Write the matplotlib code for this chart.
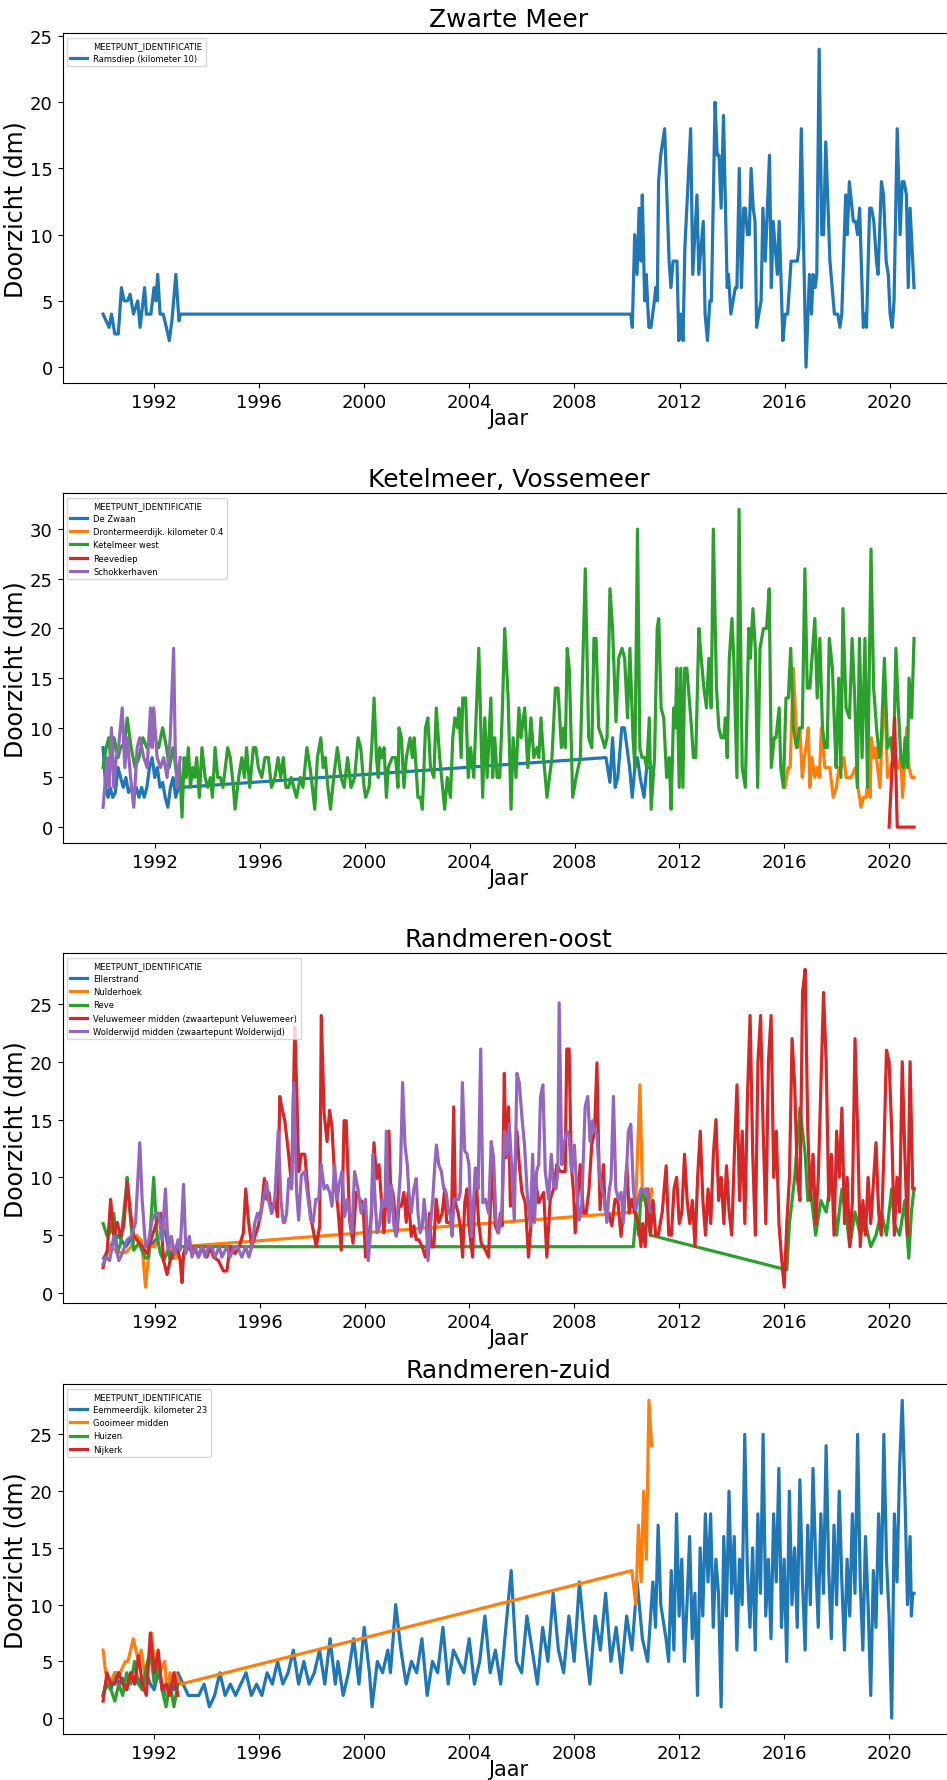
import matplotlib
matplotlib.use("Agg")
import matplotlib.pyplot as plt
from matplotlib.lines import Line2D

# Doorzicht (dm) per meetpunt; tijd als decimaal jaar
HUE = "MEETPUNT_IDENTIFICATIE"
COLORS = ["#1f77b4", "#ff7f0e", "#2ca02c", "#d62728", "#9467bd"]

# --- Zwarte Meer ---
RAMSDIEP = [
    (1990.06, 4), (1990.29, 3), (1990.38, 4), (1990.51, 2.5), (1990.64, 2.5), (1990.76, 6),
    (1990.86, 5), (1990.99, 5), (1991.09, 5.5), (1991.22, 4), (1991.38, 5), (1991.47, 3),
    (1991.64, 6), (1991.71, 4), (1991.88, 4), (1992.0, 6), (1992.07, 5), (1992.14, 7),
    (1992.23, 4), (1992.35, 4), (1992.47, 3), (1992.58, 2), (1992.68, 3.5), (1992.83, 7),
    (1992.95, 3.5), (1993.0, 4), (2010.14, 4), (2010.2, 3), (2010.29, 10), (2010.38, 7),
    (2010.46, 12), (2010.53, 8), (2010.58, 13), (2010.67, 5), (2010.73, 7), (2010.83, 3),
    (2010.91, 3), (2011.04, 5), (2011.09, 6), (2011.15, 5), (2011.2, 14), (2011.28, 16),
    (2011.43, 18), (2011.6, 8), (2011.67, 6), (2011.75, 8), (2011.9, 8), (2011.97, 2),
    (2012.05, 4), (2012.13, 2), (2012.2, 9), (2012.42, 18), (2012.5, 7), (2012.66, 13),
    (2012.73, 7), (2012.9, 11), (2012.97, 4), (2013.06, 2), (2013.15, 5), (2013.21, 5),
    (2013.35, 20), (2013.43, 16), (2013.5, 16), (2013.58, 12), (2013.67, 19), (2013.81, 6),
    (2013.86, 7), (2013.95, 4), (2014.12, 6), (2014.18, 6), (2014.27, 15), (2014.35, 6),
    (2014.44, 12), (2014.5, 12), (2014.58, 10), (2014.65, 10), (2014.72, 15), (2014.8, 12),
    (2014.87, 11), (2014.93, 3), (2015.1, 5), (2015.17, 12), (2015.26, 8), (2015.42, 16),
    (2015.49, 6), (2015.56, 11), (2015.64, 9), (2015.72, 7), (2015.79, 11), (2015.93, 2),
    (2016.02, 4), (2016.11, 4), (2016.24, 8), (2016.48, 8), (2016.54, 9), (2016.63, 18),
    (2016.81, 0), (2016.94, 7), (2017.02, 4), (2017.08, 7), (2017.16, 6), (2017.22, 7),
    (2017.31, 24), (2017.41, 10), (2017.48, 10), (2017.56, 17), (2017.72, 8), (2017.89, 4),
    (2018.02, 4), (2018.1, 3), (2018.17, 4), (2018.32, 13), (2018.38, 10), (2018.46, 14),
    (2018.61, 11), (2018.7, 11), (2018.77, 10), (2018.85, 12), (2018.99, 3), (2019.05, 4),
    (2019.11, 3), (2019.23, 12), (2019.3, 12), (2019.39, 11), (2019.49, 8), (2019.55, 7),
    (2019.68, 14), (2019.76, 13), (2019.86, 8), (2019.94, 7), (2020.01, 4), (2020.09, 3),
    (2020.16, 5), (2020.28, 18), (2020.39, 10), (2020.47, 14), (2020.54, 14), (2020.63, 13),
    (2020.7, 6), (2020.77, 12), (2020.92, 6),
]

# --- Ketelmeer, Vossemeer ---
DE_ZWAAN = [
    (1990.03, 8), (1990.13, 4), (1990.22, 3), (1990.3, 4), (1990.4, 3), (1990.5, 3.5),
    (1990.6, 6), (1990.7, 5), (1990.8, 4), (1990.9, 5), (1991.0, 3.5), (1991.1, 4),
    (1991.2, 3), (1991.3, 4), (1991.4, 3), (1991.5, 4), (1991.6, 3), (1991.7, 4),
    (1991.8, 6), (1991.9, 7), (1992.0, 5), (1992.1, 6), (1992.2, 4), (1992.3, 4.5),
    (1992.4, 3), (1992.5, 2), (1992.6, 4), (1992.7, 5), (1992.8, 3), (1992.9, 4),
    (1993.0, 4), (2009.2, 7), (2009.35, 4.5), (2009.45, 9), (2009.55, 4), (2009.65, 5),
    (2009.8, 10), (2009.9, 10), (2010.0, 8), (2010.1, 6), (2010.2, 3), (2010.3, 6),
    (2010.4, 7), (2010.5, 5), (2010.65, 3), (2010.75, 6), (2010.95, 6),
]
DRONTERMEERDIJK = [
    (2016.02, 4), (2016.14, 6), (2016.22, 6), (2016.34, 16), (2016.43, 11), (2016.5, 8),
    (2016.59, 10), (2016.68, 5), (2016.76, 7), (2016.82, 8), (2016.91, 10), (2016.97, 4),
    (2017.05, 7), (2017.16, 5), (2017.25, 6), (2017.33, 5), (2017.41, 10), (2017.54, 6),
    (2017.73, 6), (2017.86, 3), (2017.98, 4), (2018.08, 6), (2018.17, 6), (2018.27, 7),
    (2018.35, 5), (2018.54, 5), (2018.71, 6), (2018.8, 4), (2018.92, 2), (2019.02, 3),
    (2019.11, 3), (2019.2, 5), (2019.27, 3), (2019.31, 9), (2019.4, 7), (2019.46, 8),
    (2019.55, 6), (2019.64, 4), (2019.74, 10), (2019.83, 13), (2019.93, 5), (2020.06, 6),
    (2020.15, 7), (2020.25, 7), (2020.34, 6), (2020.44, 7), (2020.5, 3), (2020.6, 7),
    (2020.66, 10), (2020.75, 6), (2020.85, 5), (2020.94, 5),
]
KETELMEER_WEST = [
    (1990.03, 6), (1990.15, 8), (1990.25, 9), (1990.35, 6), (1990.45, 9), (1990.6, 7),
    (1990.7, 8), (1990.85, 8.5), (1990.95, 11), (1991.1, 8), (1991.25, 6), (1991.4, 7),
    (1991.55, 9), (1991.7, 8), (1991.85, 9), (1992.0, 9), (1992.15, 8), (1992.3, 10),
    (1992.45, 8), (1992.55, 6), (1992.7, 8), (1992.85, 5), (1992.95, 6), (1993.04, 1),
    (1993.12, 7), (1993.2, 5), (1993.28, 8), (1993.36, 4), (1993.44, 6), (1993.52, 5),
    (1993.6, 7), (1993.7, 3), (1993.8, 8), (1993.92, 5), (1994.02, 4), (1994.12, 5),
    (1994.2, 3), (1994.3, 8), (1994.4, 5), (1994.5, 5), (1994.6, 4), (1994.78, 8),
    (1994.88, 7), (1995.0, 4), (1995.06, 1.8), (1995.2, 5), (1995.32, 7), (1995.42, 5),
    (1995.5, 8), (1995.62, 4), (1995.76, 8), (1995.85, 8), (1995.95, 6), (1996.08, 5),
    (1996.2, 7), (1996.33, 7), (1996.45, 4), (1996.58, 5), (1996.7, 7), (1996.8, 5),
    (1996.9, 7), (1997.0, 4), (1997.1, 4), (1997.2, 5), (1997.3, 4), (1997.4, 3),
    (1997.55, 5), (1997.65, 4), (1997.8, 8), (1997.92, 6), (1998.1, 1.8), (1998.2, 7),
    (1998.33, 9), (1998.42, 6), (1998.5, 7), (1998.6, 4), (1998.7, 1.8), (1998.82, 5),
    (1998.96, 8), (1999.1, 5), (1999.22, 4), (1999.35, 7), (1999.48, 4), (1999.62, 5),
    (1999.75, 9), (1999.85, 8), (1999.98, 4), (2000.04, 3), (2000.17, 4), (2000.27, 8),
    (2000.36, 13), (2000.45, 7), (2000.52, 5), (2000.57, 8), (2000.65, 7), (2000.74, 8),
    (2000.83, 3), (2000.9, 6), (2001.05, 7), (2001.18, 7), (2001.27, 4), (2001.31, 10),
    (2001.4, 9), (2001.5, 4), (2001.59, 7), (2001.73, 9), (2001.82, 7), (2001.89, 9),
    (2002.03, 3), (2002.13, 3), (2002.2, 1.8), (2002.32, 10), (2002.41, 11), (2002.51, 6),
    (2002.64, 5), (2002.73, 12), (2002.86, 7), (2003.05, 1.8), (2003.15, 5), (2003.27, 3),
    (2003.36, 9), (2003.44, 11), (2003.54, 10), (2003.59, 12), (2003.68, 7), (2003.74, 13),
    (2003.85, 13), (2003.95, 5), (2004.04, 8), (2004.16, 5), (2004.35, 18), (2004.5, 3),
    (2004.58, 11), (2004.67, 5), (2004.81, 13), (2004.88, 5), (2004.96, 9), (2005.05, 5),
    (2005.15, 5), (2005.24, 11), (2005.34, 20), (2005.47, 13), (2005.58, 1.8), (2005.66, 9),
    (2005.77, 5), (2005.88, 12), (2005.96, 9), (2006.1, 12), (2006.22, 6), (2006.34, 11),
    (2006.45, 7), (2006.57, 8), (2006.64, 7), (2006.72, 11), (2006.82, 7), (2006.95, 3),
    (2007.14, 7), (2007.27, 14), (2007.37, 14), (2007.5, 8), (2007.59, 10), (2007.65, 8),
    (2007.72, 18), (2007.8, 16), (2007.93, 3), (2008.06, 5), (2008.22, 7), (2008.41, 26),
    (2008.54, 9), (2008.66, 8), (2008.74, 19), (2008.82, 19), (2008.92, 10), (2009.05, 9),
    (2009.15, 8), (2009.24, 9), (2009.35, 24), (2009.45, 20), (2009.58, 10.6), (2009.68, 17),
    (2009.81, 18), (2009.91, 17), (2010.02, 11), (2010.11, 18), (2010.23, 9), (2010.3, 6),
    (2010.4, 30), (2010.49, 8), (2010.57, 7), (2010.67, 7), (2010.75, 6), (2010.85, 11),
    (2010.92, 1.8), (2011.05, 7), (2011.15, 20), (2011.21, 21), (2011.3, 12), (2011.4, 11),
    (2011.51, 5), (2011.61, 7), (2011.68, 1.8), (2011.78, 12), (2011.84, 10), (2011.9, 16),
    (2011.99, 4), (2012.05, 16), (2012.13, 4), (2012.2, 16), (2012.28, 16), (2012.37, 13),
    (2012.46, 10), (2012.53, 7), (2012.62, 7), (2012.74, 20), (2012.83, 17), (2012.93, 14),
    (2013.03, 12), (2013.12, 17), (2013.21, 12), (2013.29, 30), (2013.41, 14), (2013.5, 10),
    (2013.59, 9), (2013.69, 9), (2013.75, 11), (2013.82, 7), (2013.9, 17), (2014.0, 21),
    (2014.07, 17), (2014.19, 5), (2014.27, 32), (2014.39, 6), (2014.51, 4), (2014.64, 20),
    (2014.7, 17), (2014.8, 22), (2014.89, 18), (2014.98, 4), (2015.07, 18), (2015.2, 20),
    (2015.32, 20), (2015.42, 24), (2015.5, 6), (2015.61, 9), (2015.68, 9), (2015.8, 12),
    (2015.86, 6), (2015.96, 4), (2016.06, 13), (2016.15, 13), (2016.24, 18), (2016.34, 10),
    (2016.46, 8), (2016.59, 10), (2016.68, 10), (2016.78, 26), (2016.87, 14), (2016.97, 14),
    (2017.16, 21), (2017.25, 13), (2017.35, 19), (2017.45, 10), (2017.54, 8), (2017.63, 8),
    (2017.71, 19), (2017.83, 16), (2017.91, 10), (2017.97, 6), (2018.07, 15), (2018.15, 5),
    (2018.23, 22), (2018.35, 12), (2018.48, 11), (2018.58, 19), (2018.68, 13), (2018.78, 4),
    (2018.86, 19), (2018.96, 7), (2019.07, 19), (2019.17, 4), (2019.3, 28), (2019.4, 14),
    (2019.51, 10), (2019.62, 7), (2019.68, 8), (2019.81, 17), (2019.93, 8), (2020.06, 9),
    (2020.15, 6), (2020.25, 18), (2020.34, 12), (2020.44, 7), (2020.53, 6), (2020.6, 9),
    (2020.69, 6), (2020.75, 15), (2020.85, 11), (2020.94, 19),
]
REEVEDIEP = [(2019.99, 0), (2020.2, 11), (2020.3, 0), (2020.5, 0), (2020.7, 0), (2020.94, 0)]
SCHOKKERHAVEN = [
    (1990.03, 2), (1990.19, 7), (1990.26, 4), (1990.35, 10), (1990.44, 4), (1990.53, 7),
    (1990.62, 8), (1990.76, 12), (1990.86, 6), (1990.95, 9), (1991.08, 5), (1991.2, 2),
    (1991.33, 8), (1991.43, 9), (1991.58, 7), (1991.71, 6), (1991.84, 12), (1991.9, 8),
    (1991.96, 12), (1992.09, 7), (1992.22, 6), (1992.34, 7), (1992.47, 5), (1992.59, 9),
    (1992.72, 18), (1992.78, 8), (1992.85, 4), (1992.97, 7),
]

# --- Randmeren-oost ---
ELLERSTRAND = [
    (1990.05, 3), (1990.3, 4), (1990.6, 5), (1990.9, 4), (1991.2, 5), (1991.5, 4),
    (1991.8, 4), (1992.0, 4.5), (1992.2, 5), (1992.35, 6), (1992.5, 4), (1992.7, 3), (1992.9, 4),
]
NULDERHOEK = [
    (1990.1, 3), (1990.3, 4), (1990.6, 3.5), (1990.9, 3.5), (1991.1, 4), (1991.3, 5),
    (1991.5, 4.5), (1991.65, 0.5), (1991.8, 4), (1992.0, 4), (1992.2, 5), (1992.4, 6),
    (1992.6, 4), (1992.8, 3), (1993.0, 4), (2010.33, 7), (2010.5, 18), (2010.6, 8),
    (2010.7, 9), (2010.85, 7), (2010.95, 9),
]
REVE = [
    (1990.03, 6), (1990.19, 4.9), (1990.3, 5.2), (1990.44, 6.9), (1990.57, 3.4), (1990.7, 4.3),
    (1990.9, 8.7), (1990.95, 10), (1991.08, 6.3), (1991.2, 3.7), (1991.39, 4.3), (1991.65, 3),
    (1991.77, 3.1), (1991.96, 10), (1992.09, 4.9), (1992.22, 3.4), (1992.34, 2.8), (1992.51, 3.7),
    (1992.59, 2.8), (1992.72, 3.4), (1992.8, 4), (2010.25, 4), (2010.35, 7), (2010.45, 5),
    (2010.55, 9), (2010.7, 8), (2010.9, 5), (2016.1, 2), (2016.2, 6), (2016.4, 10),
    (2016.6, 16), (2016.8, 12), (2016.9, 8), (2017.0, 9), (2017.2, 5), (2017.4, 8),
    (2017.6, 7), (2017.8, 10), (2018.0, 5), (2018.2, 9), (2018.4, 6), (2018.5, 4),
    (2018.7, 7), (2018.9, 5), (2019.1, 6), (2019.3, 4), (2019.5, 5), (2019.7, 7),
    (2019.9, 5), (2020.1, 9), (2020.2, 6), (2020.4, 5), (2020.6, 8), (2020.75, 3),
    (2020.85, 7), (2020.95, 9),
]
VELUWEMEER = [
    (1990.03, 2.2), (1990.19, 3.7), (1990.32, 8.1), (1990.44, 4.9), (1990.57, 6.1), (1990.7, 4.9),
    (1990.82, 5.8), (1990.95, 9.6), (1991.08, 6.9), (1991.2, 4.9), (1991.33, 4.6), (1991.52, 4),
    (1991.71, 3.4), (1991.9, 4.9), (1992.03, 5.8), (1992.22, 6.9), (1992.34, 2.8), (1992.47, 1.6),
    (1992.59, 2.8), (1992.72, 3.7), (1992.85, 4), (1992.97, 2.8), (1993.04, 0.9), (1993.1, 3.4),
    (1993.23, 4.3), (1993.35, 3.7), (1993.48, 4), (1993.67, 3.1), (1993.8, 4), (1993.99, 3.1),
    (1994.11, 4), (1994.24, 3.1), (1994.43, 2.8), (1994.62, 1.9), (1994.75, 1.9), (1994.87, 4),
    (1995.06, 3.4), (1995.22, 4), (1995.38, 5.2), (1995.47, 9), (1995.57, 6.3), (1995.7, 4),
    (1995.82, 4.9), (1995.95, 5.8), (1996.08, 7.5), (1996.18, 9.9), (1996.27, 8.1), (1996.35, 8.7),
    (1996.46, 6.9), (1996.58, 8.1), (1996.68, 6.6), (1996.77, 17), (1996.84, 16.1), (1996.9, 15.5),
    (1996.96, 14.9), (1997.09, 12.3), (1997.22, 9.3), (1997.34, 23), (1997.41, 18), (1997.49, 10.5),
    (1997.59, 12), (1997.72, 12), (1997.85, 8.7), (1997.97, 6.3), (1998.16, 4), (1998.29, 5.8),
    (1998.35, 24), (1998.46, 15.5), (1998.57, 13.1), (1998.67, 15.8), (1998.76, 14.3), (1998.86, 9.9),
    (1998.99, 7.2), (1999.11, 3.7), (1999.22, 14.9), (1999.3, 14.9), (1999.43, 6.3), (1999.56, 4.3),
    (1999.68, 8.7), (1999.81, 8.1), (1999.94, 7.8), (2000.04, 3.1), (2000.14, 4.3), (2000.27, 6.9),
    (2000.36, 13), (2000.46, 9.9), (2000.55, 11.1), (2000.65, 7.8), (2000.74, 5.2), (2000.83, 8.7),
    (2000.93, 14), (2000.99, 9.3), (2001.08, 8.7), (2001.16, 6.9), (2001.24, 5.2), (2001.31, 7.5),
    (2001.4, 7.5), (2001.5, 8.7), (2001.59, 6.1), (2001.66, 8.7), (2001.78, 4.9), (2001.88, 5.8),
    (2001.97, 4.6), (2002.07, 4.6), (2002.2, 4), (2002.32, 3.1), (2002.39, 4), (2002.48, 6.9),
    (2002.54, 4), (2002.64, 4), (2002.73, 8.1), (2002.83, 6.1), (2002.96, 6.9), (2003.06, 9),
    (2003.13, 6.1), (2003.24, 6.1), (2003.31, 5.8), (2003.4, 16.1), (2003.46, 7.8), (2003.57, 6.9),
    (2003.65, 5.8), (2003.74, 3.1), (2003.82, 7.8), (2003.91, 9), (2003.97, 6.1), (2004.07, 4),
    (2004.12, 3.1), (2004.23, 10.8), (2004.35, 6.1), (2004.45, 4.3), (2004.61, 3.7), (2004.73, 3.1),
    (2004.86, 11.4), (2004.99, 5.8), (2005.09, 5.2), (2005.18, 6.9), (2005.24, 5.8), (2005.33, 19),
    (2005.39, 11.7), (2005.49, 16.1), (2005.56, 7.5), (2005.68, 8.7), (2005.81, 14), (2005.9, 11.1),
    (2006.0, 8.7), (2006.13, 7.8), (2006.25, 3.1), (2006.38, 6.9), (2006.51, 9.9), (2006.64, 7.8),
    (2006.83, 8.7), (2006.95, 3.1), (2007.08, 8.1), (2007.21, 9), (2007.33, 11.1), (2007.46, 10.5),
    (2007.65, 10.5), (2007.71, 21.1), (2007.8, 21.1), (2007.88, 11.1), (2007.97, 8.7), (2008.03, 5.2),
    (2008.13, 8.1), (2008.22, 11.1), (2008.35, 6.9), (2008.45, 6.9), (2008.56, 9), (2008.66, 12.8),
    (2008.77, 14), (2008.86, 19.9), (2008.92, 12.8), (2008.98, 7.2), (2009.11, 11.1), (2009.17, 7.2),
    (2009.3, 6.9), (2009.43, 5.8), (2009.55, 8.1), (2009.65, 8.1), (2009.78, 4.9), (2009.87, 6.9),
    (2010.0, 11.1), (2010.09, 6.9), (2010.19, 8.1), (2010.31, 6.9), (2010.44, 6.1), (2010.54, 4),
    (2010.6, 6), (2010.7, 4), (2010.8, 9), (2010.9, 5), (2011.0, 8), (2011.1, 5),
    (2011.2, 5), (2011.35, 7), (2011.5, 11), (2011.6, 5), (2011.7, 5), (2011.8, 9),
    (2011.9, 10), (2012.0, 6), (2012.1, 7), (2012.2, 12), (2012.3, 8), (2012.4, 6),
    (2012.5, 8), (2012.6, 4), (2012.7, 10), (2012.8, 14), (2012.9, 8), (2013.0, 5),
    (2013.1, 9), (2013.2, 6), (2013.3, 12), (2013.4, 15), (2013.5, 8), (2013.6, 10),
    (2013.7, 6), (2013.8, 11), (2013.9, 7), (2014.0, 5), (2014.1, 12), (2014.2, 18),
    (2014.3, 8), (2014.4, 14), (2014.5, 6), (2014.6, 17), (2014.7, 24), (2014.8, 12),
    (2014.9, 5), (2015.0, 20), (2015.1, 24), (2015.2, 14), (2015.3, 6), (2015.4, 20),
    (2015.5, 24), (2015.6, 10), (2015.7, 14), (2015.8, 6), (2015.9, 3), (2016.0, 0.5),
    (2016.1, 6), (2016.2, 10), (2016.3, 22), (2016.4, 18), (2016.5, 10), (2016.6, 8),
    (2016.7, 26), (2016.8, 28), (2016.9, 14), (2017.0, 8), (2017.1, 12), (2017.2, 6),
    (2017.3, 10), (2017.4, 18), (2017.5, 26), (2017.6, 20), (2017.7, 8), (2017.8, 12),
    (2017.9, 5), (2018.0, 14), (2018.1, 10), (2018.2, 16), (2018.3, 6), (2018.4, 10),
    (2018.5, 4), (2018.6, 8), (2018.7, 22), (2018.8, 14), (2018.9, 4), (2019.0, 8),
    (2019.1, 5), (2019.2, 10), (2019.3, 6), (2019.5, 13), (2019.6, 7), (2019.7, 5),
    (2019.8, 12), (2019.9, 21), (2020.0, 20), (2020.1, 14), (2020.2, 5), (2020.3, 10),
    (2020.4, 7), (2020.5, 20), (2020.6, 12), (2020.7, 5), (2020.8, 20), (2020.9, 9),
    (2020.95, 9),
]
WOLDERWIJD = [
    (1990.03, 2.5), (1990.15, 3.1), (1990.28, 2.8), (1990.44, 4.9), (1990.63, 2.8), (1990.76, 3.4),
    (1990.95, 4.6), (1991.11, 4.9), (1991.27, 6.1), (1991.43, 13), (1991.52, 8.1), (1991.65, 4),
    (1991.77, 4.6), (1991.9, 6.3), (1992.03, 6.9), (1992.15, 6.9), (1992.28, 4.6), (1992.41, 9),
    (1992.51, 3.7), (1992.63, 4.9), (1992.76, 3.4), (1992.89, 4.6), (1992.97, 3.7), (1993.1, 9.4),
    (1993.19, 3.4), (1993.32, 4.9), (1993.42, 3.1), (1993.54, 4), (1993.67, 3.1), (1993.8, 4),
    (1993.92, 3.1), (1994.05, 4), (1994.18, 4), (1994.3, 3.1), (1994.46, 4), (1994.56, 3.1),
    (1994.75, 4), (1994.87, 3.1), (1995.04, 4), (1995.16, 4), (1995.32, 3.1), (1995.47, 4),
    (1995.59, 3.1), (1995.7, 4), (1995.82, 6.1), (1995.92, 6.9), (1996.01, 6.3), (1996.14, 8.1),
    (1996.27, 9.6), (1996.33, 8.1), (1996.46, 6.9), (1996.58, 8.1), (1996.71, 14), (1996.81, 8.1),
    (1996.9, 6.1), (1996.96, 6.1), (1997.03, 6.9), (1997.11, 9.9), (1997.22, 9), (1997.3, 18.2),
    (1997.41, 8.7), (1997.49, 6.3), (1997.59, 10.2), (1997.72, 10.5), (1997.85, 8.1), (1997.95, 6.3),
    (1998.04, 6.1), (1998.14, 8.1), (1998.25, 8.1), (1998.35, 11.1), (1998.46, 9), (1998.57, 9.3),
    (1998.67, 8.7), (1998.76, 7.5), (1998.86, 11.1), (1998.96, 8.1), (1999.05, 9.6), (1999.14, 10.5),
    (1999.24, 6.6), (1999.34, 8.1), (1999.43, 6.9), (1999.52, 5.2), (1999.62, 10.5), (1999.75, 9),
    (1999.87, 6.9), (2000.04, 8.1), (2000.14, 2.8), (2000.23, 5.2), (2000.32, 12), (2000.4, 8.1),
    (2000.48, 5.2), (2000.57, 5.8), (2000.67, 8.1), (2000.78, 7.5), (2000.83, 14), (2000.93, 6.1),
    (2001.03, 9.3), (2001.12, 5.8), (2001.21, 4.9), (2001.28, 7.5), (2001.37, 10.5), (2001.45, 18.2),
    (2001.54, 12.8), (2001.63, 11.1), (2001.69, 8.7), (2001.78, 6.9), (2001.88, 9), (2001.97, 9.9),
    (2002.04, 6.9), (2002.12, 5.2), (2002.2, 5.8), (2002.27, 8.1), (2002.35, 6.1), (2002.42, 2.8),
    (2002.51, 5.8), (2002.6, 8.1), (2002.68, 11.1), (2002.74, 12.8), (2002.83, 11.1), (2002.93, 10.5),
    (2003.02, 9), (2003.11, 8.7), (2003.21, 6.9), (2003.27, 6.9), (2003.34, 4.9), (2003.41, 8.1),
    (2003.49, 8.1), (2003.59, 8.1), (2003.65, 8.7), (2003.73, 18.2), (2003.82, 12.3), (2003.91, 12),
    (2003.98, 11.1), (2004.08, 4.9), (2004.23, 10.8), (2004.33, 9), (2004.43, 21.1), (2004.51, 7.8),
    (2004.61, 8.1), (2004.73, 6.9), (2004.83, 13.1), (2004.92, 11.7), (2005.01, 6.3), (2005.11, 5.2),
    (2005.24, 7.2), (2005.34, 14), (2005.43, 12), (2005.52, 14.6), (2005.62, 10.5), (2005.71, 6.3),
    (2005.81, 19), (2005.9, 18.2), (2006.0, 15.2), (2006.1, 12.8), (2006.2, 8.7), (2006.32, 5.8),
    (2006.41, 12), (2006.48, 6.1), (2006.56, 10.5), (2006.64, 11.1), (2006.71, 17), (2006.8, 18),
    (2006.89, 10.5), (2007.02, 8.1), (2007.12, 12), (2007.21, 9.3), (2007.3, 9), (2007.37, 10.5),
    (2007.42, 25.1), (2007.52, 11.1), (2007.59, 12.8), (2007.65, 13.4), (2007.73, 14), (2007.8, 13.4),
    (2007.9, 10.5), (2008.0, 12.8), (2008.09, 9), (2008.18, 6.3), (2008.28, 7.5), (2008.41, 16.1),
    (2008.51, 17), (2008.6, 13.1), (2008.69, 14.9), (2008.77, 14), (2008.86, 13.7), (2008.94, 10.5),
    (2009.05, 9), (2009.15, 8.1), (2009.24, 6.1), (2009.32, 8.7), (2009.4, 9.9), (2009.49, 17),
    (2009.58, 9), (2009.68, 8.1), (2009.78, 8.7), (2009.87, 6.1), (2010.0, 11.1), (2010.06, 14),
    (2010.15, 14.6), (2010.25, 9), (2010.34, 7.2), (2010.44, 8.1), (2010.54, 9), (2010.63, 8.7),
    (2010.75, 9), (2010.9, 7),
]

# --- Randmeren-zuid ---
EEMMEERDIJK = [
    (1990.05, 2), (1990.2, 3.5), (1990.35, 2.5), (1990.5, 4), (1990.65, 3), (1990.8, 3.5),
    (1990.95, 2.5), (1991.1, 4), (1991.25, 3), (1991.4, 3.5), (1991.55, 2.5), (1991.7, 4),
    (1991.85, 3), (1992.0, 2.5), (1992.15, 4), (1992.3, 3), (1992.45, 2), (1992.6, 3.5),
    (1992.75, 2.5), (1992.9, 4), (1993.1, 3), (1993.3, 2), (1993.5, 2), (1993.7, 2),
    (1993.9, 3), (1994.1, 1), (1994.3, 2), (1994.5, 4), (1994.7, 2), (1994.9, 3),
    (1995.1, 2), (1995.3, 3), (1995.5, 4), (1995.7, 2), (1995.9, 3), (1996.1, 2),
    (1996.3, 4), (1996.5, 3), (1996.7, 5), (1996.9, 3), (1997.1, 4), (1997.3, 6),
    (1997.5, 3), (1997.7, 5), (1997.9, 3), (1998.1, 4), (1998.3, 6), (1998.5, 3),
    (1998.7, 7), (1998.9, 3), (1999.0, 5), (1999.2, 2), (1999.4, 4), (1999.6, 7),
    (1999.8, 3), (2000.0, 8), (2000.2, 4), (2000.3, 1), (2000.5, 5), (2000.7, 4),
    (2000.9, 6), (2001.0, 4), (2001.2, 10), (2001.4, 6), (2001.6, 3), (2001.8, 5),
    (2002.0, 4), (2002.2, 7), (2002.4, 2), (2002.6, 5), (2002.8, 4), (2003.0, 8),
    (2003.2, 3), (2003.4, 6), (2003.6, 5), (2003.8, 4), (2004.0, 7), (2004.2, 3),
    (2004.4, 5), (2004.6, 9), (2004.8, 4), (2005.0, 6), (2005.2, 3), (2005.4, 8),
    (2005.6, 13), (2005.8, 5), (2006.0, 4), (2006.2, 9), (2006.4, 6), (2006.6, 3),
    (2006.8, 8), (2007.0, 5), (2007.2, 11), (2007.4, 6), (2007.6, 4), (2007.8, 9),
    (2008.0, 5), (2008.2, 12), (2008.4, 7), (2008.6, 3), (2008.8, 9), (2009.0, 6),
    (2009.2, 11), (2009.4, 5), (2009.6, 8), (2009.8, 4), (2010.0, 9), (2010.2, 6),
    (2010.4, 12), (2010.6, 7), (2010.8, 5), (2011.0, 12), (2011.1, 8), (2011.2, 17),
    (2011.3, 10), (2011.5, 7), (2011.6, 5), (2011.7, 13), (2011.8, 6), (2011.9, 18),
    (2012.0, 9), (2012.1, 14), (2012.2, 5), (2012.3, 10), (2012.4, 16), (2012.5, 7),
    (2012.6, 11), (2012.7, 2), (2012.8, 15), (2012.9, 9), (2013.0, 18), (2013.1, 12),
    (2013.2, 18), (2013.3, 8), (2013.4, 14), (2013.5, 11), (2013.6, 1), (2013.7, 16),
    (2013.8, 9), (2013.9, 20), (2014.0, 11), (2014.1, 16), (2014.2, 6), (2014.3, 14),
    (2014.4, 10), (2014.5, 25), (2014.6, 13), (2014.7, 8), (2014.8, 15), (2014.9, 6),
    (2015.0, 18), (2015.1, 11), (2015.2, 25), (2015.3, 9), (2015.4, 14), (2015.5, 7),
    (2015.6, 18), (2015.7, 12), (2015.8, 22), (2015.9, 8), (2016.0, 14), (2016.1, 5),
    (2016.2, 20), (2016.3, 10), (2016.4, 15), (2016.5, 8), (2016.6, 21), (2016.7, 12),
    (2016.8, 6), (2016.9, 17), (2017.0, 10), (2017.1, 22), (2017.2, 14), (2017.3, 8),
    (2017.4, 18), (2017.5, 11), (2017.6, 24), (2017.7, 13), (2017.8, 7), (2017.9, 17),
    (2018.0, 10), (2018.1, 20), (2018.2, 12), (2018.3, 6), (2018.4, 14), (2018.5, 9),
    (2018.6, 18), (2018.7, 11), (2018.8, 25), (2018.9, 12), (2019.0, 6), (2019.1, 16),
    (2019.2, 10), (2019.3, 2), (2019.4, 13), (2019.5, 8), (2019.6, 18), (2019.7, 11),
    (2019.8, 25), (2019.9, 14), (2020.0, 9), (2020.1, 0), (2020.2, 18), (2020.3, 12),
    (2020.4, 22), (2020.5, 28), (2020.6, 20), (2020.7, 10), (2020.8, 16), (2020.85, 9),
    (2020.9, 11), (2020.95, 11),
]
GOOIMEER = [
    (1990.05, 6), (1990.15, 4), (1990.3, 3), (1990.5, 4), (1990.7, 4), (1990.9, 5),
    (1991.0, 5), (1991.2, 7), (1991.4, 5), (1991.5, 6), (1991.7, 3), (1991.8, 5),
    (1991.9, 7.5), (1992.0, 5), (1992.2, 4), (1992.4, 5), (1992.5, 2), (1992.6, 4),
    (1992.7, 3), (1992.8, 4), (1993.0, 3), (2010.2, 13), (2010.35, 10), (2010.45, 17),
    (2010.55, 12), (2010.65, 20), (2010.75, 14), (2010.85, 28), (2010.95, 24),
]
HUIZEN = [
    (1990.05, 2), (1990.2, 3), (1990.35, 2.5), (1990.5, 1.5), (1990.65, 3), (1990.8, 2),
    (1990.95, 4), (1991.1, 3), (1991.25, 5), (1991.4, 3), (1991.55, 2.5), (1991.7, 4.5),
    (1991.85, 6), (1992.0, 3), (1992.15, 5), (1992.3, 2.5), (1992.45, 1), (1992.6, 3),
    (1992.75, 1), (1992.9, 3),
]
NIJKERK = [
    (1990.05, 1.5), (1990.2, 4), (1990.35, 3), (1990.5, 3), (1990.65, 4), (1990.8, 3),
    (1990.95, 2.5), (1991.1, 4), (1991.25, 3), (1991.4, 5.5), (1991.55, 3), (1991.7, 2),
    (1991.85, 7.5), (1992.0, 4), (1992.15, 6), (1992.3, 2.5), (1992.45, 3), (1992.6, 2),
    (1992.75, 4), (1992.9, 2),
]

PANELS = [
    ("Zwarte Meer", [("Ramsdiep (kilometer 10)", RAMSDIEP)]),
    ("Ketelmeer, Vossemeer", [
        ("De Zwaan", DE_ZWAAN),
        ("Drontermeerdijk. kilometer 0.4", DRONTERMEERDIJK),
        ("Ketelmeer west", KETELMEER_WEST),
        ("Reevediep", REEVEDIEP),
        ("Schokkerhaven", SCHOKKERHAVEN),
    ]),
    ("Randmeren-oost", [
        ("Ellerstrand", ELLERSTRAND),
        ("Nulderhoek", NULDERHOEK),
        ("Reve", REVE),
        ("Veluwemeer midden (zwaartepunt Veluwemeer)", VELUWEMEER),
        ("Wolderwijd midden (zwaartepunt Wolderwijd)", WOLDERWIJD),
    ]),
    ("Randmeren-zuid", [
        ("Eemmeerdijk. kilometer 23", EEMMEERDIJK),
        ("Gooimeer midden", GOOIMEER),
        ("Huizen", HUIZEN),
        ("Nijkerk", NIJKERK),
    ]),
]
YEAR_TICKS = [1992, 1996, 2000, 2004, 2008, 2012, 2016, 2020]

fig = plt.figure(figsize=(9.47, 17.81), dpi=100)
bottoms = [0.7844, 0.5261, 0.2678, 0.0258]

for (title, series), bottom in zip(PANELS, bottoms):
    ax = fig.add_axes([0.066, bottom, 0.942, 0.1963])
    handles = [Line2D([], [], color="none", label=HUE)]
    for i, (name, pts) in enumerate(series):
        xs = [p[0] for p in pts]
        ys = [p[1] for p in pts]
        ln, = ax.plot(xs, ys, color=COLORS[i], lw=2.3, label=name)
        handles.append(ln)
    ax.set_title(title, fontsize=18, pad=5)
    ax.set_xlabel("Jaar", fontsize=15, labelpad=-2)
    ax.set_ylabel("Doorzicht (dm)", fontsize=17, labelpad=2)
    ax.set_xticks(YEAR_TICKS)
    ax.set_xticklabels([str(y) for y in YEAR_TICKS])
    ax.tick_params(labelsize=13)
    ax.legend(handles=handles, loc="upper left", fontsize=6)

fig.savefig("out.png", dpi=100)
